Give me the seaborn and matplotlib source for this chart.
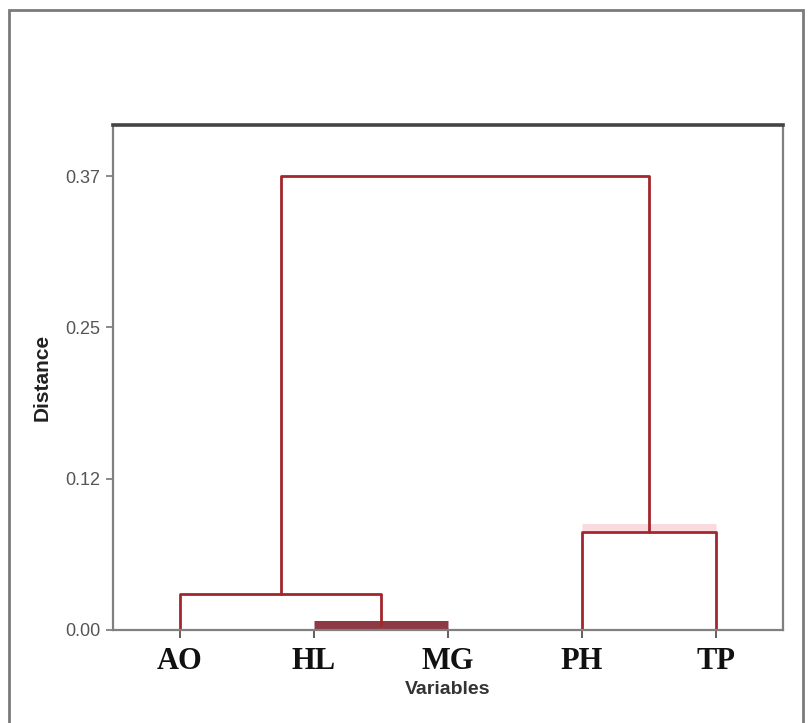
import matplotlib
matplotlib.use("Agg")
import matplotlib.pyplot as plt
import seaborn as sns
from matplotlib.patches import Rectangle

# leaves in dendrogram order
leaves = ["AO", "HL", "MG", "PH", "TP"]
# merges: (left cluster, right cluster, distance)
merge_left = ["HL", "AO", "PH", "C2"]
merge_right = ["MG", "C1", "TP", "C3"]
merge_dist = [0.004, 0.029, 0.080, 0.370]
merge_names = ["C1", "C2", "C3", "C4"]

y_max_tick = 0.37
y_ticks = [0.0, y_max_tick / 3, 2 * y_max_tick / 3, y_max_tick]

sns.set_style("white")
plt.rcParams["font.family"] = ["Liberation Sans", "DejaVu Sans"]

fig = plt.figure(figsize=(8.11, 7.23), dpi=100)
ax = fig.add_axes([113 / 811, 1 - 630 / 723, 670 / 811, 505 / 723])

# position/height lookup for leaves and clusters
pos = {name: float(i) for i, name in enumerate(leaves)}
height = {name: 0.0 for name in leaves}

red = "#a2262c"
for l, r, d, name in zip(merge_left, merge_right, merge_dist, merge_names):
    xs = [pos[l], pos[l], pos[r], pos[r]]
    ys = [height[l], d, d, height[r]]
    if name == "C1":
        line = sns.lineplot(x=xs[1:3], y=ys[1:3], ax=ax, color="#8e3a44", lw=6.5,
                            sort=False, estimator=None).lines[-1]
        line.set_solid_capstyle("butt")
    else:
        if name == "C3":
            glow = sns.lineplot(x=xs[1:3], y=[d + 0.004, d + 0.004], ax=ax,
                                color="#fadadf", lw=5, sort=False,
                                estimator=None).lines[-1]
            glow.set_solid_capstyle("butt")
        sns.lineplot(x=xs, y=ys, ax=ax, color=red, lw=2,
                     sort=False, estimator=None)
    pos[name] = (pos[l] + pos[r]) / 2
    height[name] = d

ax.set_xlim(-0.5, 4.5)
ax.set_ylim(0, 0.4116)
ax.set_yticks(y_ticks)
ax.set_yticklabels([f"{v:.2f}" for v in y_ticks], fontsize=13, color="#555555")
ax.set_xticks(range(len(leaves)))
ax.set_xticklabels(leaves, fontsize=22, fontweight="bold",
                   family=["Liberation Serif", "DejaVu Serif"], color="#111111")
ax.tick_params(axis="x", length=6, width=1.2, color="#444444", pad=6, direction="out")
ax.tick_params(axis="y", length=5, width=1.2, color="#777777", pad=4, direction="out")
ax.tick_params(bottom=True, left=True)

for side in ["left", "right", "bottom"]:
    ax.spines[side].set_color("#808080")
    ax.spines[side].set_linewidth(1.6)
ax.spines["top"].set_color("#444444")
ax.spines["top"].set_linewidth(2.6)

ax.set_xlabel("Variables", fontsize=14, fontweight="bold", color="#333333", labelpad=4)
ax.set_ylabel("Distance", fontsize=15, fontweight="bold", color="#222222", labelpad=10)

# outer frame around the figure
fig.patches.append(Rectangle((9 / 811, -0.02), 794 / 811, 1 - 10 / 723 + 0.02,
                             transform=fig.transFigure, fill=False,
                             edgecolor="#7a7a7a", lw=2))

fig.savefig("out.png", dpi=100)
